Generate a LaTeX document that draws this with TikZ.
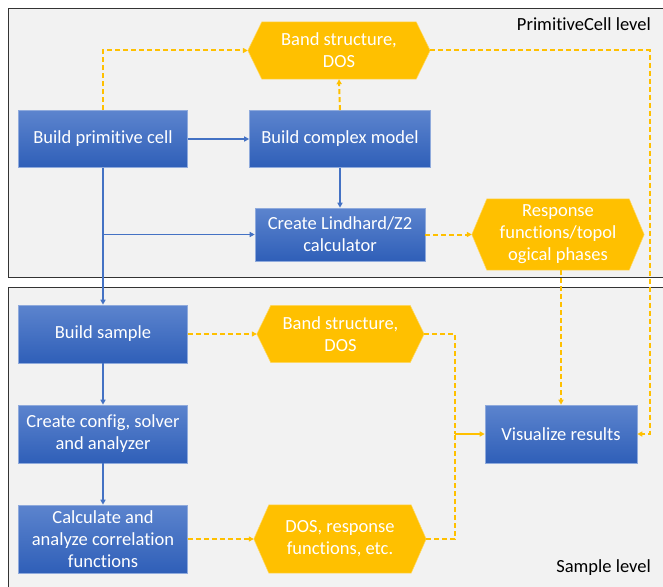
\documentclass[tikz,border=0pt]{standalone}
\usepackage{fontspec}
\setmainfont{Carlito}[Ligatures={NoCommon}]
\usetikzlibrary{arrows.meta,backgrounds}
\definecolor{panelfill}{HTML}{F2F2F2}
\definecolor{boxtop}{HTML}{5C84CE}
\definecolor{boxbot}{HTML}{2F5FB8}
\definecolor{boxedge}{HTML}{8FAADC}
\definecolor{linkblue}{HTML}{4472C4}
\definecolor{gold}{HTML}{FFC000}
\tikzset{
  panel/.style={fill=panelfill,draw=black!80,line width=1pt},
  bluebox/.style={rectangle,top color=boxtop,bottom color=boxbot,draw=boxedge,line width=0.6pt,
    text=white,align=center,inner sep=0pt,font=\fontsize{18.5}{22}\selectfont},
  hexnode/.style={rectangle,text=white,align=center,inner sep=0pt,font=\fontsize{18.5}{22}\selectfont},
  lvl/.style={text=black,font=\fontsize{18.5}{22}\selectfont,inner sep=0pt},
  bluelink/.style={draw=linkblue,line width=1.6pt,-{Triangle[length=5pt,width=5pt]}},
  goldlink/.style={draw=gold,line width=2pt,dash pattern=on 5pt off 3pt,-{Triangle[length=5pt,width=5pt]}},
  goldplain/.style={draw=gold,line width=2pt,dash pattern=on 5pt off 3pt},
  goldsolid/.style={draw=gold,line width=2pt,-{Triangle[length=5pt,width=5pt]}},
}
\newcommand{\hexfill}[2]{%
  \fill[gold,draw=gold!60!white,line width=0.5pt] (#1.west) -- ([xshift=#2]#1.north west) -- ([xshift=-#2]#1.north east)
    -- (#1.east) -- ([xshift=-#2]#1.south east) -- ([xshift=#2]#1.south west) -- cycle;}
\begin{document}
\begin{tikzpicture}[x=1pt,y=-1pt]
\useasboundingbox (0,0) rectangle (663,586);
\clip (0,0) rectangle (663,586);
\node[lvl,anchor=east] (lvltop) at (651,24) {PrimitiveCell level};
\node[lvl,anchor=east] (lvlbot) at (651,568) {Sample level};

% blue boxes
\node[bluebox,minimum width=169pt,minimum height=57pt] (bpc) at (103,139) {Build primitive cell};
\node[bluebox,minimum width=181pt,minimum height=57pt] (bcm) at (340,139) {Build complex model};
\node[bluebox,minimum width=170pt,minimum height=53pt] (lind) at (340,234.5) {Create Lindhard/Z2\\calculator};
\node[bluebox,minimum width=169pt,minimum height=58pt] (bs) at (103,334) {Build sample};
\node[bluebox,minimum width=169pt,minimum height=58pt] (cfg) at (103,434) {Create config, solver\\and analyzer};
\node[bluebox,minimum width=169pt,minimum height=68pt] (calc) at (103,539) {Calculate and\\analyze correlation\\functions};
\node[bluebox,minimum width=152pt,minimum height=58pt] (vis) at (561,434) {Visualize results};

% hexagon nodes
\node[hexnode,minimum width=182pt,minimum height=57pt] (band1) at (339,50.5) {Band structure,\\DOS};
\node[hexnode,minimum width=172pt,minimum height=71pt] (resp) at (558,234.5) {Response\\functions/topol\\ogical phases};
\node[hexnode,minimum width=167pt,minimum height=57pt] (band2) at (340.5,334) {Band structure,\\DOS};
\node[hexnode,minimum width=172pt,minimum height=68pt] (dosr) at (340,539) {DOS, response\\functions, etc.};
\begin{pgfonlayer}{background}
\fill[white] (0,0) rectangle (663,586);
\draw[panel] (8,8.5) rectangle (675,277.5);
\draw[panel] (8,287.5) rectangle (675,600);
\hexfill{band1}{14}
\hexfill{resp}{15}
\hexfill{band2}{14}
\hexfill{dosr}{15}
\end{pgfonlayer}

% coordinates for routing
\coordinate (rt) at (650,434);
\coordinate (mj) at (455,434);
\coordinate (br) at (103,234.5);

% blue connectors
\draw[bluelink] (bpc) -- (bcm);
\draw[bluelink] (bcm) -- (lind);
\draw[bluelink] (bpc.south) -- (bs.north);
\draw[bluelink] (br) -- (lind.west);
\draw[bluelink] (bs) -- (cfg);
\draw[bluelink] (cfg) -- (calc);

% gold connectors
\draw[goldlink] (bpc.north) |- (band1.west);
\draw[goldlink] (bcm.north) -- (band1.south);
\draw[goldlink] (band1.east) -- (band1.east -| rt) -- (rt) -- (vis.east);
\draw[goldlink] (lind) -- (resp);
\draw[goldlink] (resp.south -| vis.north) -- (vis.north);
\draw[goldlink] (bs) -- (band2);
\draw[goldlink] (calc) -- (dosr);
\draw[goldplain] (band2.east) -| (mj);
\draw[goldplain] (dosr.east) -| (mj);
\draw[goldsolid] (mj) -- (vis.west);
\end{tikzpicture}
\end{document}
